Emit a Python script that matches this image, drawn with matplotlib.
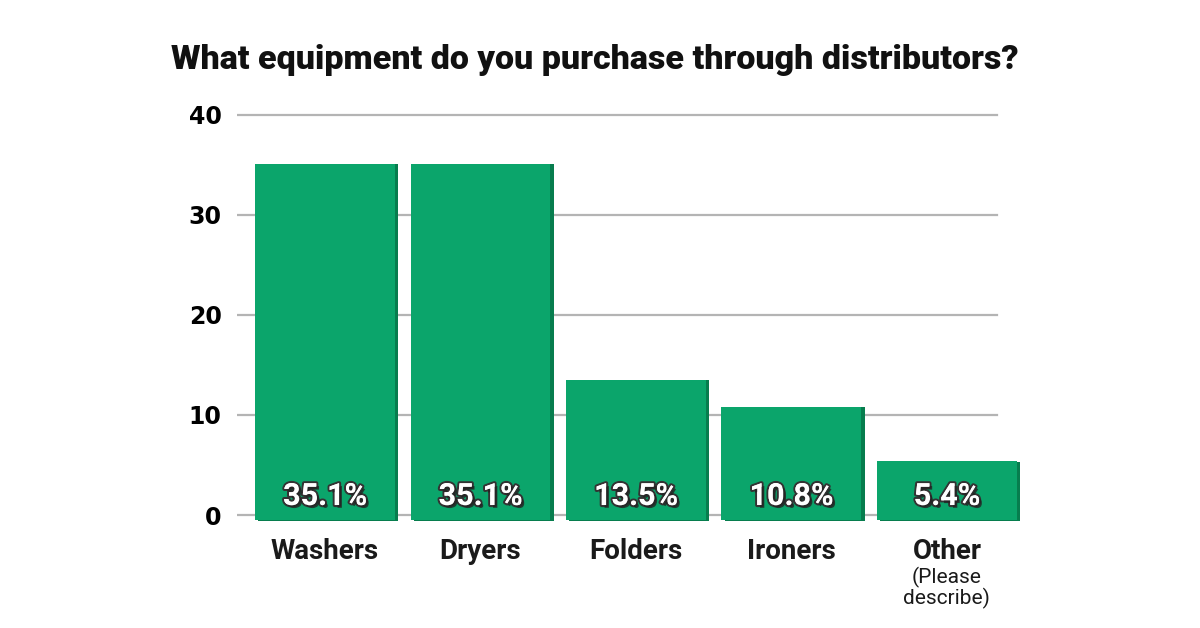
import numpy as np
import matplotlib.pyplot as plt
import matplotlib.patheffects as pe

categories = ['Washers', 'Dryers', 'Folders', 'Ironers', 'Other']
sub_labels = ['', '', '', '', '(Please\ndescribe)']
values = [35.1, 35.1, 13.5, 10.8, 5.4]
yticks = [0, 10, 20, 30, 40]

narrow = 'Roboto'
green = '#0ba56b'
dark_green = '#077d4e'

fig = plt.figure(figsize=(12, 6.28), dpi=100)
ax = fig.add_axes([0.1975, 0.156, 0.6525, 0.685])

x = np.arange(len(categories))
# darker edge on the right of each bar, then the bar itself
ax.bar(x + 0.02, np.array(values) + 0.5, width=0.9, bottom=-0.55,
       color=dark_green, zorder=2)
ax.bar(x, np.array(values) + 0.5, width=0.9, bottom=-0.5,
       color=green, zorder=3)

for v in yticks:
    ax.axhline(v, xmin=0, xmax=0.971, color='#b4b4b4', lw=1.6, zorder=1)

ax.set_xlim(-0.566, 4.47)
ax.set_ylim(-1.5, 41.5)
ax.set_yticks(yticks)
ax.set_yticklabels([str(t) for t in yticks], fontsize=17, fontweight='heavy',
                   fontfamily='DejaVu Sans')
ax.tick_params(axis='y', length=0, pad=11)
ax.set_xticks([])
for s in ax.spines.values():
    s.set_visible(False)

for i, v in enumerate(values):
    ax.text(i, 1.9, f'{v}%', ha='center', va='center', color='white',
            fontsize=22, fontweight='bold', fontfamily=narrow, zorder=5,
            path_effects=[pe.withStroke(linewidth=3, foreground='#333333'),
                          pe.SimplePatchShadow(offset=(2, -2), shadow_rgbFace='#222222', alpha=0.8),
                          pe.Normal()])
    ax.text(i, -3.6, categories[i], ha='center', va='center', color='#1a1a1a',
            fontsize=20, fontweight='bold', fontfamily=narrow, clip_on=False)
    if sub_labels[i]:
        ax.text(i, -5.2, sub_labels[i], ha='center', va='top', color='#1a1a1a',
                fontsize=15, fontfamily=narrow, linespacing=1.0, clip_on=False)

fig.text(0.496, 0.905, 'What equipment do you purchase through distributors?',
         ha='center', va='center', fontsize=24.5, fontweight='black',
         fontfamily=narrow, color='#111111')

fig.savefig('out.png', dpi=100)
